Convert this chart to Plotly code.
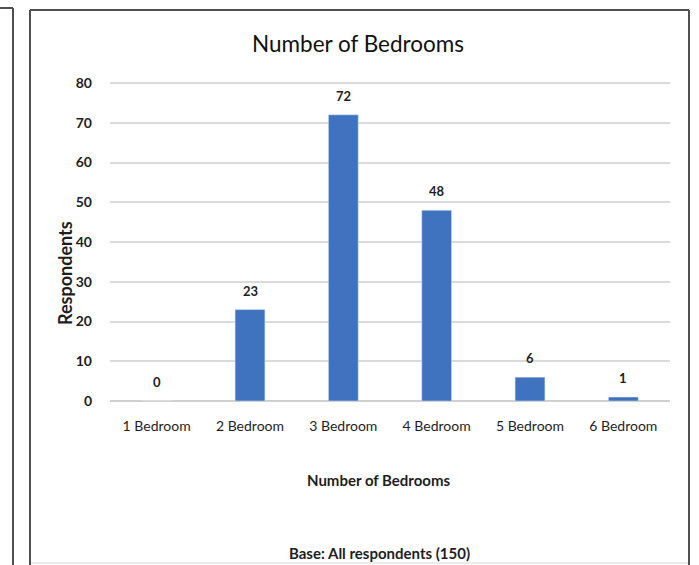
import plotly.graph_objects as go

categories = ["1 Bedroom", "2 Bedroom", "3 Bedroom", "4 Bedroom", "5 Bedroom", "6 Bedroom"]
respondents = [0, 23, 72, 48, 6, 1]
y_ticks = [0, 10, 20, 30, 40, 50, 60, 70, 80]

W, H = 699, 565
def px_x(v): return v / W
def px_y(v): return 1 - v / H

FONT = "Lato"
TXT = "#1E1E1E"
BAR = "#3F73BF"

fig = go.Figure()
fig.add_trace(go.Bar(
    x=categories, y=respondents, marker_color=BAR, width=0.32,
    hoverinfo="skip", showlegend=False,
))

for c, v in zip(categories, respondents):
    fig.add_annotation(x=c, y=v, text=str(v), showarrow=False, yanchor="middle", xanchor="center",
                       yshift=19, font=dict(family=FONT, size=13, color=TXT, weight="bold"))

def label(x, y, text, size, weight="bold", angle=0, color=TXT):
    fig.add_annotation(xref="paper", yref="paper", x=px_x(x), y=px_y(y), text=text,
                       showarrow=False, xanchor="center", yanchor="middle", textangle=angle,
                       font=dict(family=FONT, size=size, color=color, weight=weight))

label(358, 44, "Number of Bedrooms", 22.5, weight="normal", color="#111111")
label(65, 273, "Respondents", 18, angle=-90)
label(379, 480, "Number of Bedrooms", 15)
label(379, 553, "Base: All respondents (150)", 15)

# panel borders
def seg(x0, y0, x1, y1, color="#505050", width=2):
    fig.add_shape(type="line", xref="paper", yref="paper", x0=px_x(x0), x1=px_x(x1),
                  y0=px_y(y0), y1=px_y(y1), line=dict(color=color, width=width))
seg(30, 10, 30, 570)
seg(30, 10, 689, 10)
seg(689, 10, 689, 570)
seg(13, 8, 13, 570)
seg(0, 8, 13, 8)
seg(31, 563, 688, 563, color="#D8D8D8", width=1)

# y axis: 80 units over 318 px (0 at y=401), small headroom so the 80 gridline is drawn
top_val = 80.5
px_per_unit = (401 - 83) / 80
fig.update_layout(
    width=W, height=H, autosize=False,
    margin=dict(l=0, r=0, t=0, b=0, autoexpand=False),
    paper_bgcolor="white", plot_bgcolor="white",
    xaxis=dict(domain=[px_x(110), px_x(670)], showgrid=False, showline=False, zeroline=False,
               ticks="", tickfont=dict(family=FONT, size=14, color=TXT), ticklabelstandoff=15,
               fixedrange=True),
    yaxis=dict(domain=[px_y(401), px_y(401 - top_val * px_per_unit)], range=[0, top_val], tickvals=y_ticks,
               showgrid=True, gridcolor="#DADADA", gridwidth=2, zeroline=True, zerolinecolor="#D0D0D0",
               zerolinewidth=2, showline=False, ticks="",
               tickfont=dict(family=FONT, size=14, color=TXT, weight="bold"),
               ticklabelstandoff=17, fixedrange=True),
)

fig.write_html("out.html", config={"displayModeBar": False, "staticPlot": True},
               post_script="document.body.style.margin='0';document.body.style.overflow='hidden';")
